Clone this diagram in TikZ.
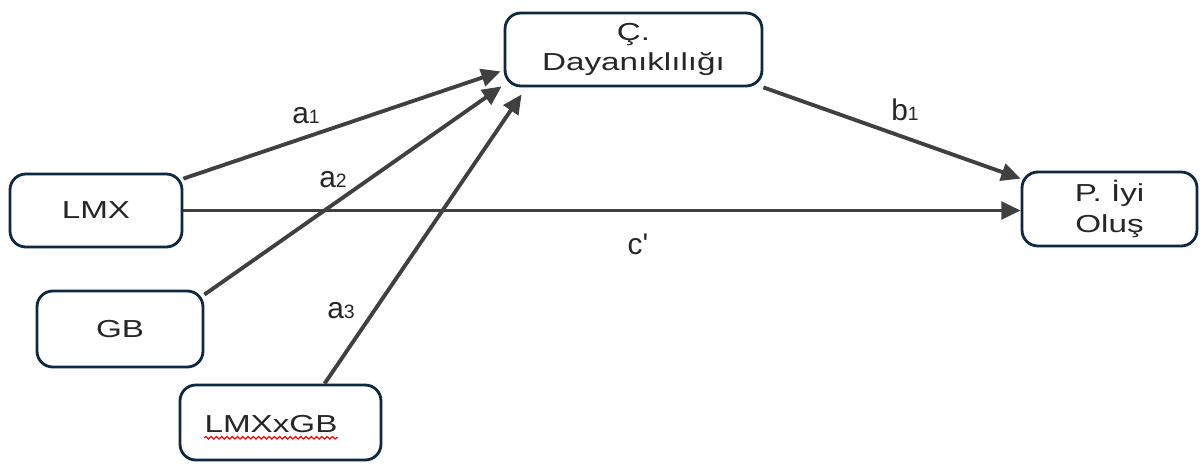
\documentclass[tikz,border=0pt]{standalone}
\usepackage{fontspec}
\setmainfont{Liberation Sans}[FakeStretch=1.35]
\newfontfamily\lblfont{Liberation Sans}
\usetikzlibrary{arrows.meta,calc,decorations.pathmorphing}
\definecolor{boxline}{HTML}{0E2841}
\definecolor{arrowgray}{HTML}{404040}
\definecolor{txt}{HTML}{262626}
\newcommand{\sub}[1]{{\fontsize{11}{11}\selectfont #1}}
\tikzset{
  boxnode/.style={draw=boxline, line width=1.6pt, rounded corners=9pt, inner sep=0pt,
    align=center, text=txt, font=\fontsize{14}{17.5}\selectfont},
  conn/.style={draw=arrowgray, line width=2.2pt, -{Triangle[length=11pt,width=10pt]}},
  lbl/.style={text=txt, font=\lblfont\fontsize{17}{17}\selectfont, inner sep=0pt}
}
\begin{document}
\begin{tikzpicture}[x=0.02cm,y=-0.02cm]
\useasboundingbox (0,0) rectangle (1202,463);
\node[boxnode, minimum width=5.14cm, minimum height=1.46cm] (C) at (633.5,49.5) {Ç.\\Dayanıklılığı};
\node[boxnode, minimum width=3.44cm, minimum height=1.46cm] (LMX) at (96,210.5) {LMX};
\node[boxnode, minimum width=3.32cm, minimum height=1.52cm] (GB) at (120,329) {GB};
\node[boxnode, minimum width=4.02cm, minimum height=1.5cm] (INT) at (280.5,422.5) {};
\node[text=txt, font=\fontsize{14}{17.5}\selectfont, inner sep=0pt] (INTt) at (271,424) {LMXxGB};
\node[boxnode, minimum width=3.5cm, minimum height=1.48cm] (P) at (1109.5,209) {P. İyi\\Oluş};
\draw[red, line width=0.7pt, decorate, decoration={snake, amplitude=0.7pt, segment length=3pt}]
  ([yshift=-3pt]INTt.base west) -- ([yshift=-3pt]INTt.base east);
\draw[conn] ([yshift=-0.12cm]LMX.north east) -- ([xshift=-0.06cm,yshift=0.32cm]C.south west);
\draw[conn] ([yshift=-0.1cm]GB.north east) -- ([xshift=-0.04cm,yshift=0.02cm]C.south west);
\draw[conn] ([xshift=2.92cm]INT.north west) -- ([xshift=0.36cm,yshift=-0.14cm]C.south west);
\draw[conn] (LMX.east) -- (LMX.east -| P.west);
\draw[conn] (C.south east) -- ([yshift=-0.16cm]P.north west);
\node[lbl] (la1) at (306,116) {a\sub{1}};
\node[lbl] (la2) at (333,180) {a\sub{2}};
\node[lbl] (la3) at (341,311) {a\sub{3}};
\node[lbl] (lb1) at (905,110) {b\sub{1}};
\node[lbl] (lc) at (638,244) {c'};
\end{tikzpicture}
\end{document}
